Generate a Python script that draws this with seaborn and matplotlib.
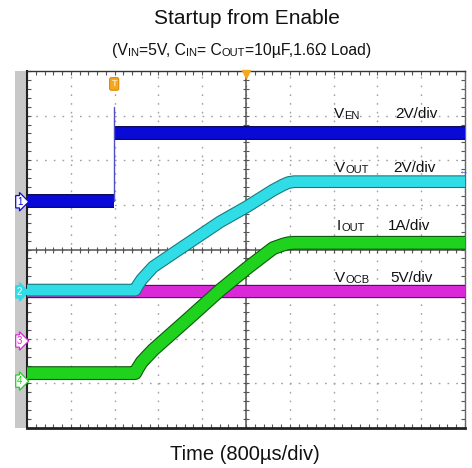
import matplotlib
matplotlib.use("Agg")
import matplotlib.pyplot as plt
import matplotlib.patheffects as pe
from matplotlib.patches import Rectangle
from matplotlib.ticker import MultipleLocator
from matplotlib.transforms import blended_transform_factory
import seaborn as sns
import numpy as np

# ---- data (in scope divisions: time 0..10 div, amplitude -4..4 div) ----
t_ven_low = [0.0, 1.99]
ven_low = [1.08, 1.08]
t_ven_high = [2.0, 10.0]
ven_high = [2.62, 2.62]
ven_spike = 3.20

t_ramp = [0.0, 2.47, 2.53, 2.62, 2.88, 3.65, 4.41, 5.02, 5.62, 5.85, 5.97, 6.10, 10.0]
vout = [-0.91, -0.91, -0.80, -0.67, -0.39, 0.12, 0.62, 0.96, 1.33, 1.45, 1.50, 1.52, 1.52]
iout = [-2.77, -2.77, -2.66, -2.52, -2.25, -1.58, -0.91, -0.42, 0.03, 0.11, 0.14, 0.15, 0.15]

t_vocb = [0.0, 10.0]
vocb = [-0.93, -0.93]

channel_names = ["1", "2", "3", "4"]
channel_levels = [1.07, -0.95, -2.05, -2.95]

trace_labels = [("V", "EN", "2V/div"), ("V", "OUT", "2V/div"),
                ("I", "OUT", "1A/div"), ("V", "OCB", "5V/div")]
label_y = [2.95, 1.74, 0.44, -0.73]
label_x = [7.01, 7.03, 7.08, 7.03]
scale_x = [8.40, 8.36, 8.24, 8.29]

BLUE = "#0a0ad8"
CYAN = "#30dce6"
GREEN = "#1ed21e"
MAGENTA = "#d828d8"
ORANGE = "#f5a623"

sns.set_theme(style="white")
plt.rcParams["font.family"] = ["Liberation Sans", "DejaVu Sans"]

fig = plt.figure(figsize=(4.72, 4.68), dpi=100)
ax = fig.add_axes([27 / 472, 1 - 428 / 468, 438 / 472, 357 / 468])
ax.set_xlim(0, 10)
ax.set_ylim(-4, 4)

# scope graticule
ax.xaxis.set_major_locator(MultipleLocator(1))
ax.yaxis.set_major_locator(MultipleLocator(1))
ax.xaxis.set_minor_locator(MultipleLocator(0.2))
ax.yaxis.set_minor_locator(MultipleLocator(0.2))
ax.grid(which="major", color="#a0a0a0", linestyle=(0, (1.2, 5.1)), linewidth=1)
ax.tick_params(which="both", direction="in", top=True, right=True,
               bottom=True, left=True, length=3, width=0.8, color="#555555",
               labelbottom=False, labelleft=False)
ax.axhline(0, color="#555555", lw=1.1, zorder=1.5)
ax.axvline(5, color="#555555", lw=1.1, zorder=1.5)
ticks_x = np.arange(0, 10.01, 0.2)
ticks_y = np.arange(-4, 4.01, 0.2)
ax.plot(ticks_x, np.zeros_like(ticks_x), ls="none", marker="|", ms=4,
        mew=0.8, color="#555555", zorder=1.5)
ax.plot(np.full_like(ticks_y, 5), ticks_y, ls="none", marker="_", ms=4,
        mew=0.8, color="#555555", zorder=1.5)

for side, lw, c in [("left", 1.5, "#222222"), ("bottom", 2.0, "#222222"),
                    ("top", 1.0, "#333333"), ("right", 1.0, "#666666")]:
    ax.spines[side].set_linewidth(lw)
    ax.spines[side].set_color(c)

# grey channel strip on the left
ax.add_patch(Rectangle((-12 / 438, 0), 12 / 438, 1, transform=ax.transAxes,
                       facecolor="#c8c8c8", edgecolor="none", clip_on=False,
                       zorder=0))


def trace(x, y, color, edge, lw, z):
    sns.lineplot(x=x, y=y, ax=ax, color=color, linewidth=lw, estimator=None,
                 sort=False, zorder=z,
                 path_effects=[pe.Stroke(linewidth=lw + 1.6, foreground=edge),
                               pe.Normal()],
                 solid_capstyle="butt", solid_joinstyle="round")


trace(t_vocb, vocb, MAGENTA, "#5a0a5a", 8.0, 3)
trace(t_ramp, vout, CYAN, "#1a7a80", 7.6, 4)
trace(t_ramp, iout, GREEN, "#0a5a0a", 8.4, 5)
trace(t_ven_low, ven_low, BLUE, "#000050", 8.4, 4)
trace(t_ven_high, ven_high, BLUE, "#000050", 8.4, 4)
ax.plot([t_ven_low[1], t_ven_low[1]], [ven_low[1], ven_spike],
        color="#5050c0", lw=1.0, zorder=4)

# trace labels
for (main, sub, scale), lx, ly, sx in zip(trace_labels, label_x, label_y, scale_x):
    t = ax.text(lx, ly, main, fontsize=11, color="#111111", va="baseline")
    ax.annotate(sub, xy=(1, 0), xycoords=t, fontsize=8, color="#111111",
                va="bottom", ha="left")
    ax.text(sx, ly, scale, fontsize=11, color="#111111", va="baseline")

# channel markers
trans = blended_transform_factory(ax.transAxes, ax.transData)
ch_colors = [BLUE, CYAN, MAGENTA, GREEN]
for name, lvl, c in zip(channel_names, channel_levels, ch_colors):
    filled = c == CYAN
    ax.text(-0.017, lvl, name, transform=trans, ha="center", va="center",
            fontsize=7, color="white" if filled else c, clip_on=False,
            zorder=6,
            bbox=dict(boxstyle="rarrow,pad=0.12", fc=c if filled else "white",
                      ec=c, lw=0.9))

# trigger markers
ax.text(t_ven_low[1], 3.71, "T", ha="center", va="center", fontsize=6.5,
        fontweight="bold", color="#ffe6b0", zorder=6,
        bbox=dict(boxstyle="round,pad=0.2", fc=ORANGE, ec="#e08800", lw=0.8))
ax.plot([5], [3.93], marker="v", ms=6, color=ORANGE, clip_on=False, zorder=6)
ax.text(9.95, 1.76, "\u2190", ha="center", va="center", fontsize=7,
        color="#3050e0", zorder=6)

# titles
fig.text(247 / 472, 1 - 19 / 468, "Startup from Enable", ha="center",
         va="center", fontsize=15, color="#111111")
pieces = [("(V", 11.3), ("IN", 8), ("=5V, C", 11.3), ("IN", 8), ("= C", 11.3),
          ("OUT", 8), ("=10\u00b5F,1.6\u03a9 Load)", 11.3)]
prev = fig.text(112 / 472, 1 - 58 / 468, pieces[0][0], fontsize=pieces[0][1],
                va="bottom", ha="left", color="#111111")
for s, fs in pieces[1:]:
    prev = ax.annotate(s, xy=(1, 0), xycoords=prev, fontsize=fs, va="bottom",
                       ha="left", color="#111111", annotation_clip=False)
fig.text(245 / 472, 1 - 454 / 468, "Time (800\u00b5s/div)", ha="center",
         va="center", fontsize=14.5, color="#111111")

fig.savefig("out.png", dpi=100)
